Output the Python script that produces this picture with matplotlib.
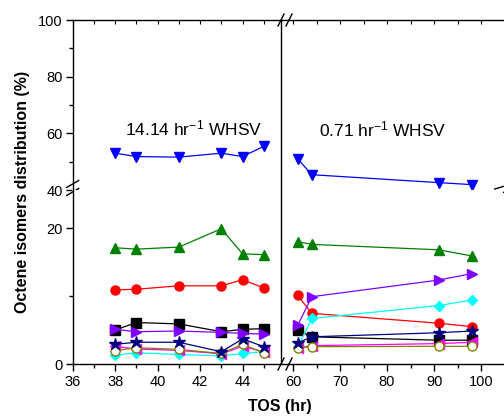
import numpy as np
import matplotlib
matplotlib.use('Agg')
import matplotlib.pyplot as plt

plt.rcParams['font.family'] = ['Liberation Sans', 'DejaVu Sans']
plt.rcParams['mathtext.fontset'] = 'custom'
plt.rcParams['mathtext.rm'] = 'Liberation Sans'
plt.rcParams['mathtext.it'] = 'Liberation Sans'

# time on stream (hr)
tos_high = [38, 39, 41, 43, 44, 45]      # 14.14 hr-1 WHSV
tos_low = [61, 64, 91, 98]               # 0.71 hr-1 WHSV

# isomer distribution (%) at high WHSV
black_high = [5.0, 6.1, 5.9, 4.75, 5.1, 5.2]
red_high = [10.9, 11.0, 11.5, 11.5, 12.4, 11.2]
green_high = [17.1, 16.9, 17.2, 19.9, 16.2, 16.1]
blue_high = [53.0, 51.8, 51.6, 53.0, 51.8, 55.4]
cyan_high = [1.3, 1.65, 1.4, 1.2, 1.55, 1.8]
magenta_high = [2.6, 2.2, 2.0, 1.5, 2.6, 1.8]
olive_high = [1.95, 2.4, 2.15, 1.55, 2.9, 1.65]
navy_high = [2.9, 3.2, 3.2, 1.8, 3.7, 2.55]
purple_high = [5.1, 4.75, 4.85, 4.65, 4.5, 4.4]

# isomer distribution (%) at low WHSV
black_low = [5.0, 4.0, 3.5, 3.5]
red_low = [10.1, 7.45, 6.0, 5.5]
green_low = [18.0, 17.6, 16.8, 15.9]
blue_low = [51.0, 45.4, 42.6, 41.9]
cyan_low = [2.5, 6.7, 8.6, 9.4]
magenta_low = [2.3, 2.7, 3.0, 3.2]
olive_low = [2.4, 2.55, 2.6, 2.6]
navy_low = [3.1, 4.0, 4.6, 4.85]
purple_low = [5.7, 9.9, 12.35, 13.3]

series = [
    ('s', '#000000', 'full', black_high, black_low),
    ('o', '#FF0000', 'full', red_high, red_low),
    ('^', '#008000', 'full', green_high, green_low),
    ('v', '#0000FF', 'full', blue_high, blue_low),
    ('D', '#00FFFF', 'full', cyan_high, cyan_low),
    ('<', '#FF00FF', 'full', magenta_high, magenta_low),
    ('o', '#808000', 'none', olive_high, olive_low),
    ('*', '#000080', 'full', navy_high, navy_low),
    ('>', '#8000FF', 'full', purple_high, purple_low),
]

W, H = 504, 418
fig = plt.figure(figsize=(W / 100, H / 100), dpi=100)

x0, xs, x1 = 72.7 / W, 285 / W, 503 / W
y0, ys, y1 = 1 - 364 / H, 1 - 190 / H, 1 - 20 / H

ax_ul = fig.add_axes([x0, ys, xs - x0, y1 - ys])
ax_ll = fig.add_axes([x0, y0, xs - x0, ys - y0])
ax_ur = fig.add_axes([xs, ys, x1 - xs, y1 - ys])
ax_lr = fig.add_axes([xs, y0, x1 - xs, ys - y0])

for ax in [ax_ul, ax_ll, ax_ur, ax_lr]:
    for marker, color, fill, yh, yl in series:
        if ax in (ax_ul, ax_ll):
            xv, yv = tos_high, yh
        else:
            xv, yv = tos_low, yl
        face = 'white' if fill == 'none' else color
        ms = 9 if marker == '*' else 6.5
        if marker == 'D':
            ms = 5.5
        ax.plot(xv, yv, marker=marker, color=color, mfc=face, mec=color,
                ms=ms, lw=0.9, mew=1.0)
    for s in ax.spines.values():
        s.set_visible(False)
        s.set_linewidth(1.0)

for ax in (ax_ul, ax_ll):
    ax.set_xlim(36, 46)
    ax.set_xticks([36, 38, 40, 42, 44])
    ax.set_xticks(np.arange(37, 46, 1), minor=True)
    ax.axvline(45.8, color='black', lw=1.0)
    ax.spines['left'].set_visible(True)
for ax in (ax_ur, ax_lr):
    ax.set_xlim(58.3, 104.66)
    ax.set_xticks([60, 70, 80, 90, 100])
    ax.set_xticks([65, 75, 85, 95], minor=True)
    ax.set_yticks([])
    ax.set_yticks([], minor=True)

for ax in (ax_ul, ax_ur):
    ax.set_ylim(40, 100)
    ax.spines['top'].set_visible(True)
    ax.tick_params(axis='x', which='both', bottom=False, labelbottom=False,
                   top=True, direction='in', length=3, width=0.8)
for ax in (ax_ll, ax_lr):
    ax.set_ylim(0, 25.6)
    ax.spines['bottom'].set_visible(True)
    ax.tick_params(axis='x', which='major', direction='out', length=5,
                   width=1.0, labelsize=10.5, pad=3)
    ax.tick_params(axis='x', which='minor', direction='out', length=3,
                   width=1.0)

ax_ul.set_yticks([40, 60, 80, 100])
ax_ul.set_yticks([50, 70, 90], minor=True)
ax_ll.set_yticks([0, 20])
ax_ll.set_yticks([10], minor=True)
for ax in (ax_ul, ax_ll):
    ax.tick_params(axis='y', which='major', direction='out', length=5,
                   width=1.0, labelsize=10.5, pad=2)
    ax.tick_params(axis='y', which='minor', direction='out', length=3,
                   width=1.0)

ax_ul.text(41.7, 61.7, '14.14 hr$^{-1}$ WHSV', fontsize=12.5, ha='center',
           va='center')
ax_ur.text(79.1, 61.2, '0.71 hr$^{-1}$ WHSV', fontsize=12.5, ha='center',
           va='center')

# axis break marks
def slash(ax, xc, yc, dx, dy, gap_x, gap_y):
    for k in (-1, 1):
        ax.plot([xc - dx + k * gap_x, xc + dx + k * gap_x],
                [yc - dy + k * gap_y, yc + dy + k * gap_y],
                transform=ax.transAxes, color='black', lw=1.0,
                clip_on=False)

# left y axis break
ax_ul.plot([0, 0], [0, 0.02], transform=ax_ul.transAxes, color='white',
           lw=2, clip_on=False)
slash(ax_ul, 0.0, 0.012, 6 / 212.3, 3.5 / 170, 0, 4 / 170)
# bottom x axis break
slash(ax_lr, 0.0, 0.0, 3 / 218, 6 / 174, 4 / 218, 0)
# top x axis break
slash(ax_ur, 0.0, 1.0, 3 / 218, 6 / 170, 4 / 218, 0)
# right edge break
slash(ax_ur, 0.985, -0.003, 5 / 218, 1.5 / 170, 0, 3 / 170)

fig.text(0.555, 0.028, 'TOS (hr)', fontsize=11.5, fontweight='bold',
         ha='center', va='center')
fig.text(0.044, 0.54, 'Octene isomers distribution (%)', fontsize=11.5,
         fontweight='bold', rotation=90, ha='center', va='center')

fig.savefig('out.png', dpi=100)
